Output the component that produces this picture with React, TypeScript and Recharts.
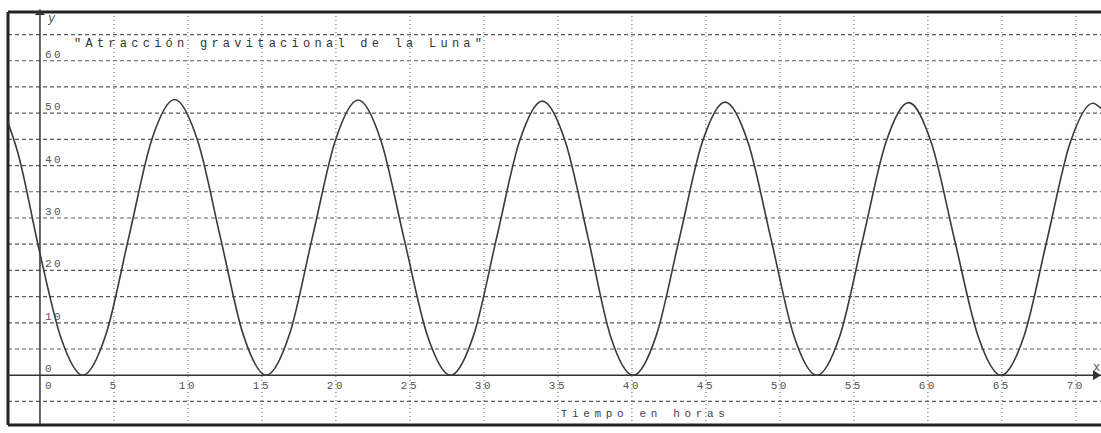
import { LineChart, Line, XAxis, YAxis, ReferenceLine, ReferenceDot } from "recharts";

// Horas y atracción
const hours = [
  -2.16, -1.5, 0, 1.4, 2.9, 4.45, 6.0, 7.55, 9.1, 10.65, 12.2, 13.75, 15.3, 16.85, 18.4, 19.95, 21.5,
  23.05, 24.6, 26.2, 27.75, 29.3, 30.85, 32.4, 33.95, 35.5, 37.05, 38.55, 40.1, 41.65, 43.2, 44.75,
  46.3, 47.85, 49.4, 50.95, 52.5, 54.05, 55.6, 57.15, 58.7, 60.25, 61.8, 63.4, 64.95, 66.5, 68.05,
  69.6, 71.15, 71.7,
];
const attraction = [
  48.2, 42.5, 23.2, 7.3, 0, 7.7, 26.3, 44.9, 52.6, 44.8, 26.2, 7.6, 0, 7.7, 26.2, 44.7, 52.5,
  44.7, 26.1, 7.4, 0, 7.6, 26.1, 44.6, 52.3, 44.6, 26.1, 7.5, 0, 7.6, 26.0, 44.4,
  52.1, 44.4, 26.0, 7.5, 0, 7.5, 25.9, 44.3, 52.0, 44.2, 25.9, 7.4, 0, 7.5, 25.8,
  44.2, 51.9, 50.9,
];

const xTicks = [0, 5, 10, 15, 20, 25, 30, 35, 40, 45, 50, 55, 60, 65, 70];
const yTicks = [0, 10, 20, 30, 40, 50, 60];
const xGrid = [5, 10, 15, 20, 25, 30, 35, 40, 45, 50, 55, 60, 65, 70];
const yGrid = [-5, 5, 10, 15, 20, 25, 30, 35, 40, 45, 50, 55, 60, 65];

const title = '"Atracción gravitacional de la Luna"';
const xTitle = "Tiempo en horas";

const X_MIN = -2.16;
const X_MAX = 71.7;
const Y_MIN = -9.5;
const Y_MAX = 69.3;

const MONO = "'Liberation Mono', 'DejaVu Sans Mono', monospace";
const INK = "#3a3a3a";

export default function App() {
  const data = hours.map((t, i) => ({ t, v: attraction[i] }));

  return (
    <div style={{ position: "absolute", left: 0, top: 0, background: "#fff" }}>
      <LineChart
        width={1101}
        height={433}
        data={data}
        margin={{ top: 12, right: 0, left: 8, bottom: 8 }}
      >
        <XAxis type="number" dataKey="t" domain={[X_MIN, X_MAX]} allowDataOverflow hide />
        <YAxis type="number" domain={[Y_MIN, Y_MAX]} allowDataOverflow hide />

        {yGrid.map((v) => (
          <ReferenceLine key={"h" + v} y={v} stroke="#5a5a5a" strokeWidth={1.2} strokeDasharray="4 3" />
        ))}
        {xGrid.map((v) => (
          <ReferenceLine key={"v" + v} x={v} stroke="#777" strokeWidth={1.2} strokeDasharray="1 3" />
        ))}

        {/* marco */}
        <ReferenceLine y={Y_MAX} stroke="#222" strokeWidth={3} />
        <ReferenceLine y={Y_MIN} stroke="#222" strokeWidth={3} />
        <ReferenceLine x={X_MIN} stroke="#222" strokeWidth={3} />

        {/* ejes */}
        <ReferenceLine x={0} stroke="#333" strokeWidth={1.5} />
        <ReferenceLine y={0} stroke="#333" strokeWidth={1.5} />
        <ReferenceDot
          x={0}
          y={Y_MAX}
          r={0}
          shape={(p: any) => (
            <g>
              <polygon points={`${p.cx - 5},${p.cy + 3} ${p.cx + 5},${p.cy + 3} ${p.cx},${p.cy - 3}`} fill="#333" />
              <text x={p.cx + 8} y={p.cy + 10} fontFamily={MONO} fontSize={12} fontStyle="italic" fill="#555">
                y
              </text>
            </g>
          )}
        />
        <ReferenceDot
          x={X_MAX}
          y={0}
          r={0}
          shape={(p: any) => (
            <g>
              <polygon points={`${p.cx - 8},${p.cy - 5} ${p.cx - 8},${p.cy + 5} ${p.cx},${p.cy}`} fill="#333" />
              <text x={p.cx - 8} y={p.cy - 4} fontFamily={MONO} fontSize={12} fill="#555">
                x
              </text>
            </g>
          )}
        />

        <Line
          type="monotone"
          dataKey="v"
          stroke={INK}
          strokeWidth={1.6}
          dot={false}
          isAnimationActive={false}
        />

        {xTicks.map((v) => (
          <ReferenceDot
            key={"xt" + v}
            x={v}
            y={0}
            r={0}
            shape={(p: any) => (
              <text
                x={v === 0 ? p.cx + 5 : p.cx}
                y={p.cy + 14}
                textAnchor={v === 0 ? "start" : "middle"}
                fontFamily={MONO}
                fontSize={11}
                letterSpacing={2.5}
                fill="#555"
              >
                {v}
              </text>
            )}
          />
        ))}
        {yTicks.map((v) => (
          <ReferenceDot
            key={"yt" + v}
            x={0}
            y={v}
            r={0}
            shape={(p: any) => (
              <text
                x={p.cx + 5}
                y={p.cy - 3}
                fontFamily={MONO}
                fontSize={11}
                letterSpacing={2.5}
                fill="#555"
              >
                {v}
              </text>
            )}
          />
        ))}

        <ReferenceDot
          x={2.3}
          y={62.7}
          r={0}
          shape={(p: any) => (
            <text
              x={p.cx}
              y={p.cy}
              fontFamily={MONO}
              fontSize={12}
              textLength={408}
              lengthAdjust="spacing"
              fill="#333"
            >
              {title}
            </text>
          )}
        />
        <ReferenceDot
          x={35.2}
          y={-8}
          r={0}
          shape={(p: any) => (
            <text
              x={p.cx}
              y={p.cy}
              fontFamily={MONO}
              fontSize={11}
              textLength={164}
              lengthAdjust="spacing"
              fill="#444"
            >
              {xTitle}
            </text>
          )}
        />
      </LineChart>
    </div>
  );
}
